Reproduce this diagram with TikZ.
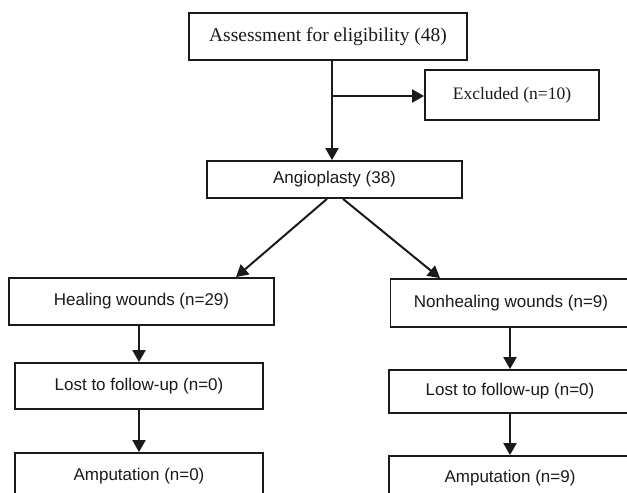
\documentclass[tikz,border=0pt]{standalone}
\usepackage{fontspec}
\setmainfont{Liberation Serif}
\setsansfont{Liberation Sans}
\usetikzlibrary{arrows.meta,calc}
\definecolor{ink}{HTML}{1A1A1A}
\tikzset{
  boxs/.style={draw=ink, line width=1.8pt, text=ink, inner sep=0pt, anchor=center},
  serifbox/.style={boxs, font=\fontsize{17.5}{20}\selectfont\rmfamily},
  sansbox/.style={boxs, font=\fontsize{17}{20}\selectfont\sffamily},
  arr/.style={draw=ink, line width=2pt, -{Triangle[length=12pt,width=13pt]}},
  plainline/.style={draw=ink, line width=2pt}
}
\begin{document}
\begin{tikzpicture}[x=1pt,y=-1pt]
\path[use as bounding box] (0,0) rectangle (627,493);
\clip (0,0) rectangle (627,493);
\fill[white] (0,0) rectangle (627,493);
\node[serifbox, font=\fontsize{19.5}{22}\selectfont\rmfamily, minimum width=278pt, minimum height=47pt] (assess) at (328,36.5) {Assessment for eligibility (48)};
\node[serifbox, minimum width=174pt, minimum height=50pt] (excl) at (512,95) {Excluded (n=10)};
\node[sansbox, minimum width=255pt, minimum height=37pt] (angio) at (334.5,179.5) {Angioplasty (38)};
\node[sansbox, minimum width=265pt, minimum height=47pt] (heal) at (141.5,301.5) {Healing wounds (n=29)};
\node[sansbox, minimum width=241pt, minimum height=48pt] (nonheal) at (511,303) {Nonhealing wounds (n=9)};
\node[sansbox, minimum width=248pt, minimum height=46pt] (lostL) at (139,386) {Lost to follow-up (n=0)};
\node[sansbox, minimum width=242pt, minimum height=43pt] (lostR) at (510,391.5) {Lost to follow-up (n=0)};
\node[sansbox, minimum width=248pt, minimum height=46pt] (ampL) at (139,476) {Amputation (n=0)};
\node[sansbox, minimum width=242pt, minimum height=44pt] (ampR) at (510,478) {Amputation (n=9)};
\coordinate (j) at (332,96);
\draw[plainline] (assess.south -| j) -- (j);
\draw[arr] (j) -- (angio.north -| j);
\draw[arr] (j) -- (excl.west |- j);
\draw[arr] ($(angio.south)+(-7.5,0)$) -- ($(heal.north)+(94.5,0)$);
\draw[arr] ($(angio.south)+(8.5,0)$) -- ($(nonheal.north)+(-71,0)$);
\draw[arr] (heal.south -| lostL) -- (lostL.north);
\draw[arr] (lostL.south) -- (ampL.north);
\draw[arr] (nonheal.south -| lostR) -- (lostR.north);
\draw[arr] (lostR.south) -- (ampR.north);
\end{tikzpicture}
\end{document}
